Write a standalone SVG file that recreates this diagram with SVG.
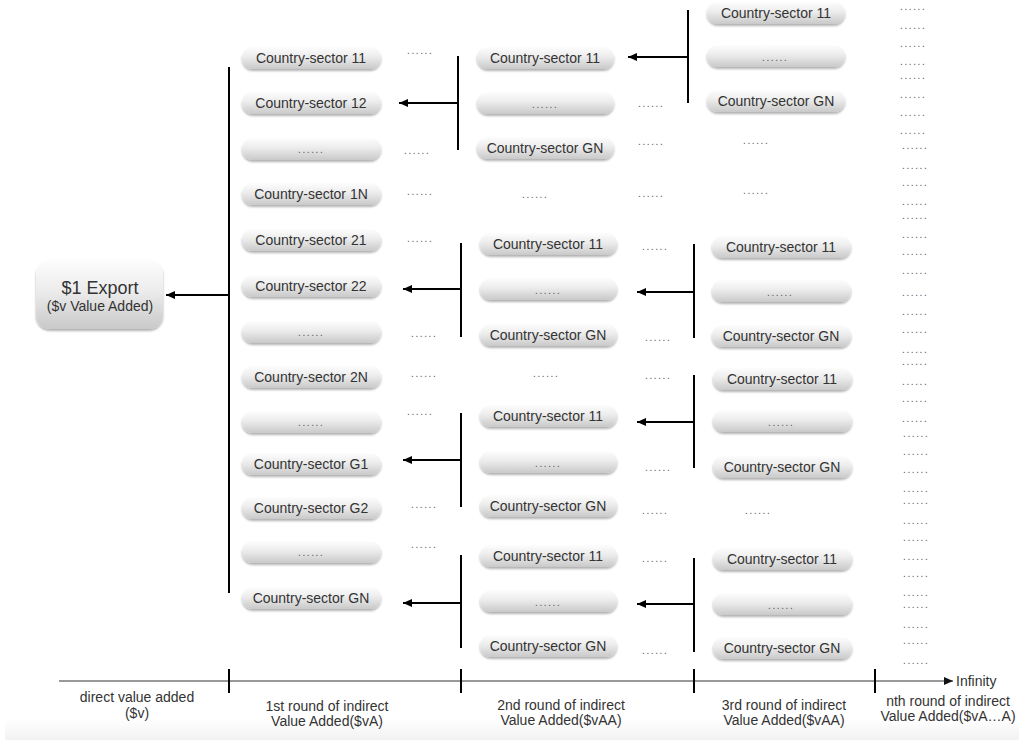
<svg xmlns="http://www.w3.org/2000/svg" width="1019" height="740" viewBox="0 0 1019 740">
<style>
text{font-family:"Liberation Sans",Arial,sans-serif;fill:#333;}
.pt{font-size:14px;text-anchor:middle;}
.dt{font-size:10px;fill:#555;letter-spacing:1.6px;}
.lb{font-size:14px;text-anchor:middle;fill:#333;}
.pill{fill:url(#pg);filter:url(#sh);}
.ln{stroke:#000;stroke-width:2;fill:none;}
.ar{stroke:#000;stroke-width:2;fill:none;marker-end:url(#ah);}
</style>
<defs>
<linearGradient id="pg" x1="0" y1="0" x2="0" y2="1">
<stop offset="0" stop-color="#fdfdfd"/>
<stop offset="0.45" stop-color="#ececec"/>
<stop offset="1" stop-color="#c9c9c9"/>
</linearGradient>
<linearGradient id="bg" x1="0" y1="0" x2="0" y2="1">
<stop offset="0" stop-color="#ffffff"/>
<stop offset="1" stop-color="#f2f2f2"/>
</linearGradient>
<filter id="sh" x="-10%" y="-30%" width="120%" height="170%">
<feDropShadow dx="0" dy="2" stdDeviation="1.2" flood-color="#000" flood-opacity="0.3"/>
</filter>
<marker id="ah" markerUnits="userSpaceOnUse" markerWidth="10" markerHeight="10" refX="9" refY="5" orient="auto">
<path d="M0,1 L9,5 L0,9 Z" fill="#000"/>
</marker>
<marker id="ah2" markerUnits="userSpaceOnUse" markerWidth="10" markerHeight="10" refX="9" refY="5" orient="auto">
<path d="M0,1 L9,5 L0,9 Z" fill="#111"/>
</marker>
</defs>
<rect x="0" y="0" width="1019" height="740" fill="#fff"/>
<rect x="5" y="718" width="1014" height="22" fill="url(#bg)"/>

<g id="export">
<rect class="pill" x="36" y="260" width="127" height="69" rx="14"/>
<text x="100" y="294" style="font-size:18px;text-anchor:middle">$1 Export</text>
<text x="100" y="311" class="pt">($v Value Added)</text>
</g>

<g id="col1">
<g id="c1-1"><rect class="pill" x="242" y="47" width="139" height="22" rx="11"/><text class="pt" x="311" y="63">Country-sector 11</text></g>
<g id="c1-2"><rect class="pill" x="242" y="92" width="139" height="22" rx="11"/><text class="pt" x="311" y="108">Country-sector 12</text></g>
<g id="c1-3"><rect class="pill" x="242" y="138" width="139" height="22" rx="11"/><text class="dt" x="298" y="153">......</text></g>
<g id="c1-4"><rect class="pill" x="242" y="183" width="139" height="22" rx="11"/><text class="pt" x="311" y="199">Country-sector 1N</text></g>
<g id="c1-5"><rect class="pill" x="242" y="229" width="139" height="22" rx="11"/><text class="pt" x="311" y="245">Country-sector 21</text></g>
<g id="c1-6"><rect class="pill" x="242" y="275" width="139" height="22" rx="11"/><text class="pt" x="311" y="291">Country-sector 22</text></g>
<g id="c1-7"><rect class="pill" x="242" y="321" width="139" height="22" rx="11"/><text class="dt" x="298" y="336">......</text></g>
<g id="c1-8"><rect class="pill" x="242" y="366" width="139" height="22" rx="11"/><text class="pt" x="311" y="382">Country-sector 2N</text></g>
<g id="c1-9"><rect class="pill" x="242" y="411" width="139" height="22" rx="11"/><text class="dt" x="298" y="426">......</text></g>
<g id="c1-10"><rect class="pill" x="242" y="453" width="139" height="22" rx="11"/><text class="pt" x="311" y="469">Country-sector G1</text></g>
<g id="c1-11"><rect class="pill" x="242" y="497" width="139" height="22" rx="11"/><text class="pt" x="311" y="513">Country-sector G2</text></g>
<g id="c1-12"><rect class="pill" x="242" y="541" width="139" height="22" rx="11"/><text class="dt" x="298" y="556">......</text></g>
<g id="c1-13"><rect class="pill" x="242" y="587" width="139" height="22" rx="11"/><text class="pt" x="311" y="603">Country-sector GN</text></g>
</g>

<g id="col2">
<g id="c2a-1"><rect class="pill" x="477" y="47" width="137" height="22" rx="11"/><text class="pt" x="545" y="63">Country-sector 11</text></g>
<g id="c2a-2"><rect class="pill" x="477" y="92" width="137" height="22" rx="11"/><text class="dt" x="532" y="108">......</text></g>
<g id="c2a-3"><rect class="pill" x="477" y="137" width="137" height="22" rx="11"/><text class="pt" x="545" y="153">Country-sector GN</text></g>
<g id="c2b-1"><rect class="pill" x="480" y="233" width="137" height="22" rx="11"/><text class="pt" x="548" y="249">Country-sector 11</text></g>
<g id="c2b-2"><rect class="pill" x="480" y="278" width="137" height="22" rx="11"/><text class="dt" x="535" y="294">......</text></g>
<g id="c2b-3"><rect class="pill" x="480" y="324" width="137" height="22" rx="11"/><text class="pt" x="548" y="340">Country-sector GN</text></g>
<g id="c2c-1"><rect class="pill" x="480" y="405" width="137" height="22" rx="11"/><text class="pt" x="548" y="421">Country-sector 11</text></g>
<g id="c2c-2"><rect class="pill" x="480" y="451" width="137" height="22" rx="11"/><text class="dt" x="535" y="467">......</text></g>
<g id="c2c-3"><rect class="pill" x="480" y="495" width="137" height="22" rx="11"/><text class="pt" x="548" y="511">Country-sector GN</text></g>
<g id="c2d-1"><rect class="pill" x="480" y="545" width="137" height="22" rx="11"/><text class="pt" x="548" y="561">Country-sector 11</text></g>
<g id="c2d-2"><rect class="pill" x="480" y="590" width="137" height="22" rx="11"/><text class="dt" x="535" y="606">......</text></g>
<g id="c2d-3"><rect class="pill" x="480" y="635" width="137" height="22" rx="11"/><text class="pt" x="548" y="651">Country-sector GN</text></g>
</g>

<g id="col3">
<g id="c3a-1"><rect class="pill" x="707" y="2" width="138" height="22" rx="11"/><text class="pt" x="776" y="18">Country-sector 11</text></g>
<g id="c3a-2"><rect class="pill" x="707" y="45" width="138" height="22" rx="11"/><text class="dt" x="762" y="61">......</text></g>
<g id="c3a-3"><rect class="pill" x="707" y="90" width="138" height="22" rx="11"/><text class="pt" x="776" y="106">Country-sector GN</text></g>
<g id="c3b-1"><rect class="pill" x="712" y="236" width="139" height="22" rx="11"/><text class="pt" x="781" y="252">Country-sector 11</text></g>
<g id="c3b-2"><rect class="pill" x="712" y="280" width="139" height="22" rx="11"/><text class="dt" x="767" y="296">......</text></g>
<g id="c3b-3"><rect class="pill" x="712" y="325" width="139" height="22" rx="11"/><text class="pt" x="781" y="341">Country-sector GN</text></g>
<g id="c3c-1"><rect class="pill" x="713" y="368" width="139" height="22" rx="11"/><text class="pt" x="782" y="384">Country-sector 11</text></g>
<g id="c3c-2"><rect class="pill" x="713" y="410" width="139" height="22" rx="11"/><text class="dt" x="768" y="426">......</text></g>
<g id="c3c-3"><rect class="pill" x="713" y="456" width="139" height="22" rx="11"/><text class="pt" x="782" y="472">Country-sector GN</text></g>
<g id="c3d-1"><rect class="pill" x="713" y="548" width="139" height="22" rx="11"/><text class="pt" x="782" y="564">Country-sector 11</text></g>
<g id="c3d-2"><rect class="pill" x="713" y="593" width="139" height="22" rx="11"/><text class="dt" x="768" y="609">......</text></g>
<g id="c3d-3"><rect class="pill" x="713" y="637" width="139" height="22" rx="11"/><text class="pt" x="782" y="653">Country-sector GN</text></g>
</g>

<g id="dots">
<text class="dt" x="407" y="54">......</text>
<text class="dt" x="404" y="154">......</text>
<text class="dt" x="407" y="195">......</text>
<text class="dt" x="407" y="242">......</text>
<text class="dt" x="411" y="337">......</text>
<text class="dt" x="411" y="377">......</text>
<text class="dt" x="407" y="415">......</text>
<text class="dt" x="411" y="508">......</text>
<text class="dt" x="411" y="548">......</text>
<text class="dt" x="522" y="198">......</text>
<text class="dt" x="533" y="377">......</text>
<text class="dt" x="638" y="107">......</text>
<text class="dt" x="638" y="145">......</text>
<text class="dt" x="638" y="197">......</text>
<text class="dt" x="642" y="250">......</text>
<text class="dt" x="645" y="341">......</text>
<text class="dt" x="645" y="379">......</text>
<text class="dt" x="645" y="471">......</text>
<text class="dt" x="642" y="514">......</text>
<text class="dt" x="642" y="562">......</text>
<text class="dt" x="642" y="654">......</text>
<text class="dt" x="743" y="144">......</text>
<text class="dt" x="743" y="194">......</text>
<text class="dt" x="745" y="514">......</text>
<text class="dt" x="900" y="10">......</text>
<text class="dt" x="900" y="29">......</text>
<text class="dt" x="900" y="47">......</text>
<text class="dt" x="900" y="65">......</text>
<text class="dt" x="900" y="79">......</text>
<text class="dt" x="900" y="98">......</text>
<text class="dt" x="900" y="116">......</text>
<text class="dt" x="900" y="134">......</text>
<text class="dt" x="902" y="149">......</text>
<text class="dt" x="902" y="169">......</text>
<text class="dt" x="902" y="186">......</text>
<text class="dt" x="902" y="205">......</text>
<text class="dt" x="902" y="219">......</text>
<text class="dt" x="902" y="238">......</text>
<text class="dt" x="902" y="255">......</text>
<text class="dt" x="902" y="274">......</text>
<text class="dt" x="902" y="296">......</text>
<text class="dt" x="902" y="315">......</text>
<text class="dt" x="902" y="333">......</text>
<text class="dt" x="902" y="353">......</text>
<text class="dt" x="902" y="365">......</text>
<text class="dt" x="902" y="385">......</text>
<text class="dt" x="902" y="402">......</text>
<text class="dt" x="902" y="422">......</text>
<text class="dt" x="903" y="437">......</text>
<text class="dt" x="903" y="455">......</text>
<text class="dt" x="903" y="473">......</text>
<text class="dt" x="903" y="492">......</text>
<text class="dt" x="903" y="504">......</text>
<text class="dt" x="903" y="524">......</text>
<text class="dt" x="903" y="541">......</text>
<text class="dt" x="903" y="560">......</text>
<text class="dt" x="903" y="577">......</text>
<text class="dt" x="903" y="596">......</text>
<text class="dt" x="903" y="608">......</text>
<text class="dt" x="903" y="628">......</text>
<text class="dt" x="903" y="644">......</text>
<text class="dt" x="903" y="664">......</text>
</g>

<g id="connectors">
<line class="ln" x1="229" y1="67" x2="229" y2="593"/>
<line class="ar" x1="229" y1="295" x2="166" y2="295"/>
<line class="ln" x1="458" y1="56" x2="458" y2="150"/>
<line class="ar" x1="458" y1="103" x2="399" y2="103"/>
<line class="ln" x1="461" y1="243" x2="461" y2="337"/>
<line class="ar" x1="461" y1="289" x2="403" y2="289"/>
<line class="ln" x1="461" y1="413" x2="461" y2="507"/>
<line class="ar" x1="461" y1="460" x2="403" y2="460"/>
<line class="ln" x1="461" y1="555" x2="461" y2="648"/>
<line class="ar" x1="461" y1="603" x2="403" y2="603"/>
<line class="ln" x1="688" y1="10" x2="688" y2="103"/>
<line class="ar" x1="688" y1="57" x2="628" y2="57"/>
<line class="ln" x1="694" y1="244" x2="694" y2="338"/>
<line class="ar" x1="694" y1="292" x2="637" y2="292"/>
<line class="ln" x1="694" y1="375" x2="694" y2="468"/>
<line class="ar" x1="694" y1="422" x2="637" y2="422"/>
<line class="ln" x1="694" y1="558" x2="694" y2="652"/>
<line class="ar" x1="694" y1="604" x2="637" y2="604"/>
</g>

<g id="axis">
<line x1="59" y1="681" x2="953" y2="681" stroke="#777" stroke-width="1.5" marker-end="url(#ah2)"/>
<line class="ln" x1="229" y1="669" x2="229" y2="693"/>
<line class="ln" x1="461" y1="669" x2="461" y2="693"/>
<line class="ln" x1="694" y1="669" x2="694" y2="693"/>
<line class="ln" x1="875" y1="669" x2="875" y2="693"/>
<text x="956" y="686" style="font-size:14px">Infinity</text>
<text class="lb" x="137" y="702">direct value added</text>
<text class="lb" x="137" y="718">($v)</text>
<text class="lb" x="327" y="711">1st round of indirect</text>
<text class="lb" x="327" y="726">Value Added($vA)</text>
<text class="lb" x="561" y="710">2nd round of indirect</text>
<text class="lb" x="561" y="725">Value Added($vAA)</text>
<text class="lb" x="784" y="710">3rd round of indirect</text>
<text class="lb" x="784" y="725">Value Added($vAA)</text>
<text class="lb" x="948" y="706">nth round of indirect</text>
<text class="lb" x="948" y="721">Value Added($vA…A)</text>
</g>
</svg>
